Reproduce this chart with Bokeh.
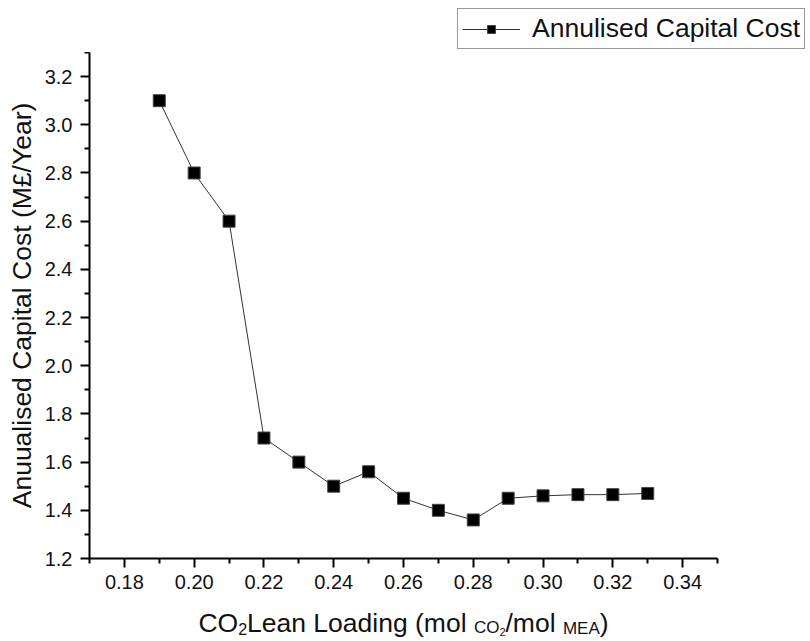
from bokeh.plotting import figure
from bokeh.layouts import column
from bokeh.models import (Range1d, FixedTicker, Label, Legend, LegendItem, ColumnDataSource)
from bokeh.embed import file_html
from bokeh.resources import INLINE

# ---- data ----
lean_loading = [0.19, 0.20, 0.21, 0.22, 0.23, 0.24, 0.25, 0.26, 0.27, 0.28, 0.29, 0.30, 0.31, 0.32, 0.33]
capital_cost = [3.10, 2.80, 2.60, 1.70, 1.60, 1.50, 1.56, 1.45, 1.40, 1.36, 1.45, 1.46, 1.465, 1.465, 1.47]

x_major = [0.18, 0.20, 0.22, 0.24, 0.26, 0.28, 0.30, 0.32, 0.34]
x_minor = [0.17, 0.19, 0.21, 0.23, 0.25, 0.27, 0.29, 0.31, 0.33, 0.35]
x_tick_labels = ["0.18", "0.20", "0.22", "0.24", "0.26", "0.28", "0.30", "0.32", "0.34"]
y_major = [1.2, 1.4, 1.6, 1.8, 2.0, 2.2, 2.4, 2.6, 2.8, 3.0, 3.2]
y_minor = [1.3, 1.5, 1.7, 1.9, 2.1, 2.3, 2.5, 2.7, 2.9, 3.1, 3.3]
y_tick_labels = ["1.2", "1.4", "1.6", "1.8", "2.0", "2.2", "2.4", "2.6", "2.8", "3.0", "3.2"]

series_name = "Annulised Capital Cost"
y_title = "Anuualised Capital Cost (M£/Year)"
# x title pieces: (text, font px, baseline shift px)
x_title_pieces = [("CO", 26.5, 0), ("2", 16, 6), ("Lean Loading (mol ", 26.5, 0), ("CO", 17, 4.3),
                  ("2", 11, 8.8), ("/mol ", 26.5, 0), ("MEA", 17, 5.6), (")", 26.5, 0)]

FONT = "Liberation Sans"
TXT = "#111111"
W = 810
TOP_H, MAIN_H, BOT_H = 52, 548, 41
BL, BR, BB = 89, 93, 42


def bare(fig):
    fig.outline_line_color = None
    fig.background_fill_color = "white"
    fig.border_fill_color = "white"
    fig.frame_align = False
    for g in fig.grid:
        g.visible = False


line_style = dict(line_color="#333333", line_width=1)
marker_style = dict(marker="square", size=12, fill_color="black", line_color="#444444", line_width=1)

# ---- top strip with legend (series drawn out of view, used only for the legend key) ----
top = figure(width=W, height=TOP_H, output_backend="svg", toolbar_location=None,
             x_axis_location=None, y_axis_location=None, min_border=0,
             x_range=Range1d(0, 1), y_range=Range1d(0, 1))
bare(top)
top_src = ColumnDataSource(dict(x=lean_loading, y=capital_cost))
lg_line = top.line("x", "y", source=top_src, **line_style)
lg_sq = top.scatter("x", "y", source=top_src, **marker_style)
legend = Legend(items=[LegendItem(label=series_name, renderers=[lg_line, lg_sq])],
                location=(457, 3), orientation="vertical",
                label_text_font=FONT, label_text_font_size="26.5px", label_text_color=TXT,
                glyph_width=58, glyph_height=20, padding=4, margin=0, spacing=0,
                border_line_color="#333333", border_line_width=1,
                background_fill_color="white", background_fill_alpha=1.0,
                label_standoff=12)
top.add_layout(legend, "center")

# ---- main plot ----
p = figure(width=W, height=MAIN_H, output_backend="svg", toolbar_location=None,
           x_range=Range1d(0.17, 0.35), y_range=Range1d(1.2, 3.3),
           min_border_left=BL, min_border_right=BR, min_border_top=0, min_border_bottom=BB)
bare(p)
src = ColumnDataSource(dict(x=lean_loading, y=capital_cost))
p.line("x", "y", source=src, **line_style)
p.scatter("x", "y", source=src, **marker_style)

for ax, maj, mino, labs in ((p.xaxis[0], x_major, x_minor, x_tick_labels),
                            (p.yaxis[0], y_major, y_minor, y_tick_labels)):
    ax.ticker = FixedTicker(ticks=maj, minor_ticks=mino)
    ax.major_label_overrides = {t: l for t, l in zip(maj, labs)}
    ax.axis_line_width = 2
    ax.axis_line_color = "black"
    ax.major_tick_line_width = 2
    ax.minor_tick_line_width = 2
    ax.major_tick_line_color = "black"
    ax.minor_tick_line_color = "black"
    ax.major_tick_in = 0
    ax.major_tick_out = 9
    ax.minor_tick_in = 0
    ax.minor_tick_out = 5
    ax.major_label_text_font = FONT
    ax.major_label_text_font_size = "20px"
    ax.major_label_text_color = TXT
p.xaxis[0].major_label_standoff = 7
p.yaxis[0].major_label_standoff = 8
p.xaxis[0].axis_label = None
p.yaxis[0].axis_label = y_title
p.yaxis[0].axis_label_text_font = FONT
p.yaxis[0].axis_label_text_font_size = "26.5px"
p.yaxis[0].axis_label_text_font_style = "normal"
p.yaxis[0].axis_label_text_color = TXT
p.yaxis[0].axis_label_standoff = 5

# ---- bottom strip with x title (sub-scripted pieces) ----
bot = figure(width=W, height=BOT_H, output_backend="svg", toolbar_location=None,
             x_axis_location=None, y_axis_location=None, min_border=0,
             x_range=Range1d(0, 1), y_range=Range1d(0, 1))
bare(bot)
ARIAL = {' ': 278, '(': 333, ')': 333, '/': 278, '2': 556, 'A': 667, 'C': 722, 'E': 667,
         'L': 556, 'M': 833, 'O': 778, 'a': 556, 'd': 556, 'e': 556, 'g': 556, 'i': 222,
         'l': 222, 'm': 833, 'n': 556, 'o': 556}
widths = [sum(ARIAL[c] for c in t) * s / 1000.0 for t, s, _ in x_title_pieces]
frame_center = BL + (W - BL - BR) / 2.0
cur = frame_center - sum(widths) / 2.0
base = 22.3
for (t, s, dy), w in zip(x_title_pieces, widths):
    bot.add_layout(Label(x=cur, y=base + dy, x_units="canvas", y_units="canvas", text=t,
                         text_align="left", text_baseline="alphabetic",
                         text_font=FONT, text_font_size=f"{s}px", text_color=TXT))
    cur += w

layout = column(top, p, bot, spacing=0)
open("out.html", "w").write(file_html(layout, INLINE))
